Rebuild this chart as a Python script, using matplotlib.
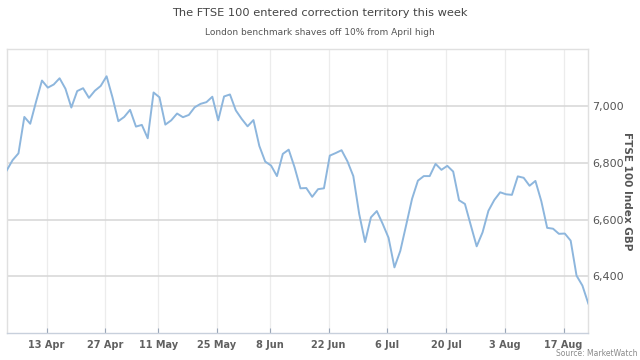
import matplotlib
matplotlib.use("Agg")
import matplotlib.pyplot as plt
import matplotlib.ticker as mticker
import numpy as np
import pandas as pd

# Trading days (London), 31 Mar - 21 Aug 2015
holidays = ["2015-04-03", "2015-04-06", "2015-05-04", "2015-05-25"]
dates = [d for d in pd.bdate_range("2015-03-31", "2015-08-21") if d.strftime("%Y-%m-%d") not in holidays]

values = [
    6773, 6809, 6833, 6961, 6937, 7015, 7089, 7064, 7075, 7097,
    7060, 6994, 7052, 7062, 7028, 7053, 7070, 7104, 7030, 6946,
    6961, 6986, 6927, 6933, 6886, 7047, 7030, 6934, 6949, 6973,
    6960, 6968, 6995, 7007, 7013, 7032, 6949, 7033, 7040, 6984,
    6954, 6928, 6950, 6859, 6804, 6790, 6753, 6831, 6846, 6784,
    6710, 6711, 6680, 6707, 6710, 6825, 6834, 6844, 6805, 6753,
    6620, 6521, 6608, 6630, 6585, 6536, 6432, 6490, 6581, 6673,
    6737, 6753, 6753, 6796, 6775, 6789, 6769, 6668, 6655, 6580,
    6506, 6555, 6631, 6669, 6696, 6689, 6687, 6752, 6747, 6719,
    6736, 6665, 6571, 6568, 6550, 6551, 6526, 6403, 6368, 6305,
]

tick_dates = ["2015-04-13", "2015-04-27", "2015-05-11", "2015-05-25", "2015-06-08",
              "2015-06-22", "2015-07-06", "2015-07-20", "2015-08-03", "2015-08-17"]
tick_labels = ["13 Apr", "27 Apr", "11 May", "25 May", "8 Jun",
               "22 Jun", "6 Jul", "20 Jul", "3 Aug", "17 Aug"]
y_ticks = [6400, 6600, 6800, 7000]

title = "The FTSE 100 entered correction territory this week"
subtitle = "London benchmark shaves off 10% from April high"
ylabel = "FTSE 100 Index GBP"
source = "Source: MarketWatch"

x = np.arange(len(values))
date_idx = pd.DatetimeIndex(dates)
tick_pos = [int(np.searchsorted(date_idx, pd.Timestamp(d))) - 0.2 for d in tick_dates]

fig = plt.figure(figsize=(6.4, 3.6), dpi=100)
ax = fig.add_axes([0.0105, 0.074, 0.9087, 0.790])

ax.plot(x, values, color="#8db6dd", linewidth=1.4, zorder=3)
ax.set_xlim(0, len(values) - 1)
ax.set_ylim(6200, 7200)

ax.set_xticks(tick_pos)
ax.set_xticklabels(tick_labels, fontsize=7, color="#606060", fontweight="bold")
ax.set_yticks(y_ticks)
ax.yaxis.set_major_formatter(mticker.FuncFormatter(lambda v, p: f"{int(v):,}"))
ax.yaxis.tick_right()
ax.tick_params(axis="y", length=0, labelsize=8, labelcolor="#555555", pad=3)
ax.tick_params(axis="x", direction="in", length=3.5, color="#9aa6b8", pad=5)

ax.grid(axis="y", color="#d6d6d6", linewidth=1.1, zorder=1)
ax.grid(axis="x", color="#ececec", linewidth=0.9, zorder=1)

for s in ["left", "top", "right"]:
    ax.spines[s].set_color("#e0e0e0")
    ax.spines[s].set_linewidth(1.0)
ax.spines["bottom"].set_color("#c8d0dc")
ax.spines["bottom"].set_linewidth(1.0)

ax.yaxis.set_label_position("right")
ax.set_ylabel(ylabel, rotation=-90, fontsize=7.5, fontweight="bold", color="#555555",
              va="center", ha="center")
ax.yaxis.set_label_coords(1.066, 0.5)

fig.text(0.5, 0.964, title, ha="center", va="center", fontsize=8.2, color="#444444")
fig.text(0.5, 0.911, subtitle, ha="center", va="center", fontsize=6.5, color="#555555")
fig.text(0.996, 0.017, source, ha="right", va="center", fontsize=5.5, color="#8a8a8a")

fig.savefig("out.png", dpi=100)
